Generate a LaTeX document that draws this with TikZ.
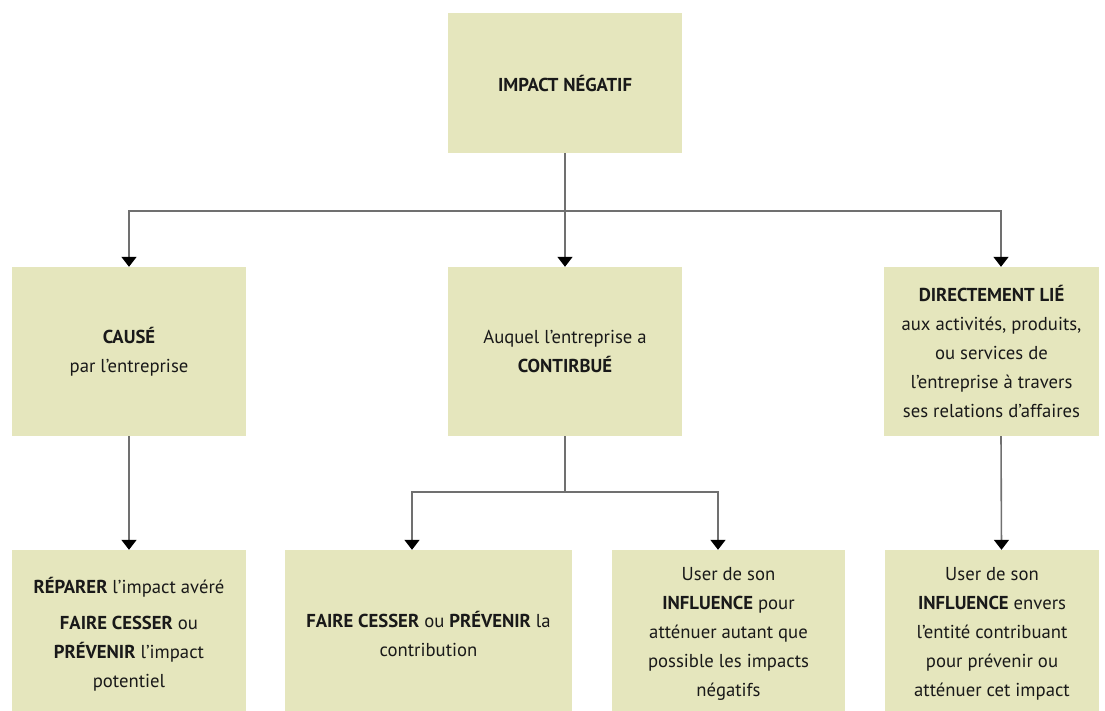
\documentclass[tikz,border=0pt]{standalone}
\usepackage{fontspec}
\setmainfont{PT Sans}
\usepackage{xcolor}
\usetikzlibrary{arrows.meta,positioning}
\definecolor{boxfill}{HTML}{E5E6BD}
\definecolor{linegrey}{HTML}{707070}

\begin{document}
\begin{tikzpicture}[x=1pt, y=-1pt, >={Triangle[width=15pt,length=10pt,color=black]},
  box/.style={fill=boxfill, align=center, inner sep=0pt, text=black!90,
    font=\fontsize{18.7}{29}\selectfont},
  link/.style={draw=linegrey, line width=1.6pt}]

\clip (0,0) rectangle (1105,711);

% top level
\node [box, minimum width=234pt, minimum height=140pt] (impact) at (565,83)
  {\textbf{IMPACT NÉGATIF}};

% middle row
\node [box, minimum width=234pt, minimum height=169pt] (cause) at (129,351.5)
  {\textbf{CAUSÉ}\\par l’entreprise};
\node [box, minimum width=234pt, minimum height=169pt] (contrib) at (565,351.5)
  {Auquel l’entreprise a\\\textbf{CONTIRBUÉ}};
\node [box, minimum width=215pt, minimum height=169pt] (direct) at (991.5,351.5)
  {\textbf{DIRECTEMENT LIÉ}\\aux activités, produits,\\ou services de\\l’entreprise à travers\\ses relations d’affaires};

% bottom row
\node [box, minimum width=234pt, minimum height=168pt] (reparer) at (129,634)
  {\textbf{RÉPARER} l’impact avéré\\[7pt]\textbf{FAIRE CESSER} ou\\\textbf{PRÉVENIR} l’impact\\potentiel};
\node [box, minimum width=287pt, minimum height=168pt] (cesser) at (428.5,634)
  {\textbf{FAIRE CESSER} ou \textbf{PRÉVENIR} la\\contribution};
\node [box, minimum width=233pt, minimum height=168pt] (influ) at (728.5,634)
  {User de son\\\textbf{INFLUENCE} pour\\atténuer autant que\\possible les impacts\\négatifs};
\node [box, minimum width=214pt, minimum height=168pt] (envers) at (992,634)
  {User de son\\\textbf{INFLUENCE} envers\\l’entité contribuant\\pour prévenir ou\\atténuer cet impact};

% connectors
\coordinate (split-top) at (565,211);
\coordinate (split-mid) at (565,492);

\draw [link] (impact) -- (split-top);
\draw [link, ->] (split-top) -| (cause.north);
\draw [link, ->] (split-top) -- (contrib);
\draw [link, ->] (split-top) -| ([xshift=9.5pt]direct.north);

\draw [link, ->] (cause) -- (reparer);
\draw [link] (contrib) -- (split-mid);
\draw [link, ->] (split-mid) -| ([xshift=-16.5pt]cesser.north);
\draw [link, ->] (split-mid) -| ([xshift=-10.5pt]influ.north);
\draw [link, ->] ([xshift=9.5pt]direct.south) -- ([xshift=9.5pt]envers.north);

\end{tikzpicture}
\end{document}
